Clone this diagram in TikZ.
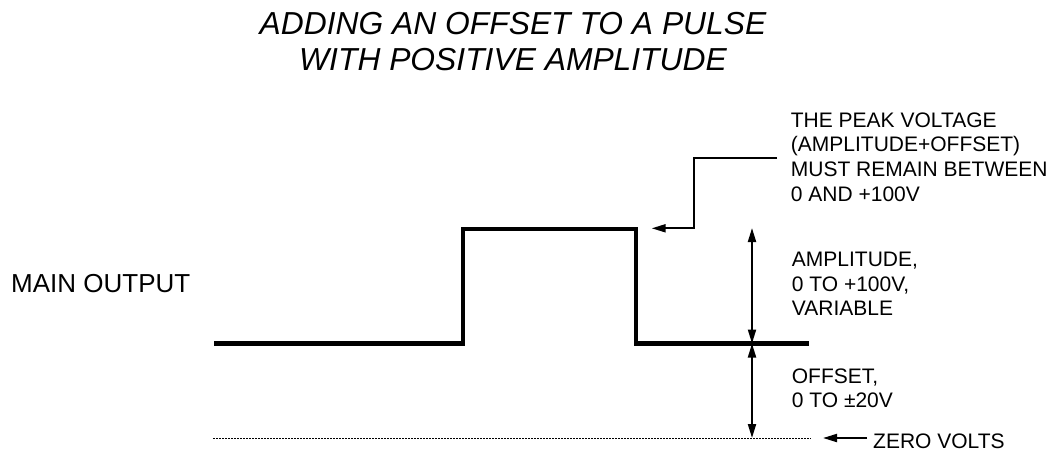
\documentclass[tikz,border=0pt]{standalone}
\usepackage{fontspec}
\setmainfont{Liberation Sans}
\usetikzlibrary{arrows.meta}
\tikzset{
  pulse/.style={line width=4.2pt, line join=miter, line cap=butt},
  thin/.style={line width=2pt},
  ahead/.tip={Triangle[length=14pt,width=8pt]},
  tip/.style={-ahead},
  dbl/.style={ahead-ahead},
  lbl/.style={anchor=north west, inner sep=0pt, align=left, font=\fontsize{21}{24.7}\selectfont},
}
\begin{document}
\begin{tikzpicture}[x=1pt,y=-1pt]
\useasboundingbox (0,0) rectangle (1057,451);
% title
\node (title) [anchor=north, inner sep=0pt, align=center, font=\fontsize{31.8}{35.8}\selectfont\itshape] at (513,12.5) {ADDING AN OFFSET TO A PULSE\\WITH POSITIVE AMPLITUDE};
% main output label
\node (maintxt) [anchor=base west, inner sep=0pt, font=\fontsize{26}{30}\selectfont] at (11,292) {MAIN OUTPUT};
% pulse
\coordinate (p0) at (214,343.5);
\coordinate (p1) at (463,343.5);
\coordinate (p2) at (463,229);
\coordinate (p3) at (636,229);
\coordinate (p4) at (636,343.5);
\coordinate (p5) at (809,343.5);
\draw[pulse] (p0) -- (p1) -- (p2) -- (p3) -- (p4) -- (p5);
% zero line
\coordinate (z0) at (213,438);
\coordinate (z1) at (811,438);
\draw[line width=1pt, dash pattern=on 1.5pt off 1.5pt] (z0) -- (z1);
% dimension arrows
\coordinate (atop) at (752,228);
\coordinate (amid) at (752,343.5);
\coordinate (abot) at (752,438);
\draw[thin, dbl] (atop) -- (amid);
\draw[thin, dbl] (amid) -- (abot);
% peak pointer
\coordinate (q0) at (777,158.3);
\coordinate (q1) at (694.3,158.3);
\coordinate (q2) at (694.3,228.3);
\coordinate (q3) at (651.7,228.3);
\draw[thin, tip] (q0) -- (q1) -- (q2) -- (q3);
% zero volts pointer
\coordinate (r0) at (867,438);
\coordinate (r1) at (823,438);
\draw[thin, tip] (r0) -- (r1);
% labels
\node (peaktxt) [lbl] at (790.7,112.3) {THE PEAK VOLTAGE\\(AMPLITUDE+OFFSET)\\MUST REMAIN BETWEEN\\0 AND +100V};
\node (amptxt) [lbl] at (791.7,251.7) {AMPLITUDE,\\0 TO +100V,\\VARIABLE};
\node (offtxt) [lbl] at (791.7,368.3) {OFFSET,\\0 TO ±20V};
\node (zerotxt) [anchor=base west, inner sep=0pt, font=\fontsize{21}{24.7}\selectfont] at (873,448.3) {ZERO VOLTS};
\end{tikzpicture}
\end{document}
